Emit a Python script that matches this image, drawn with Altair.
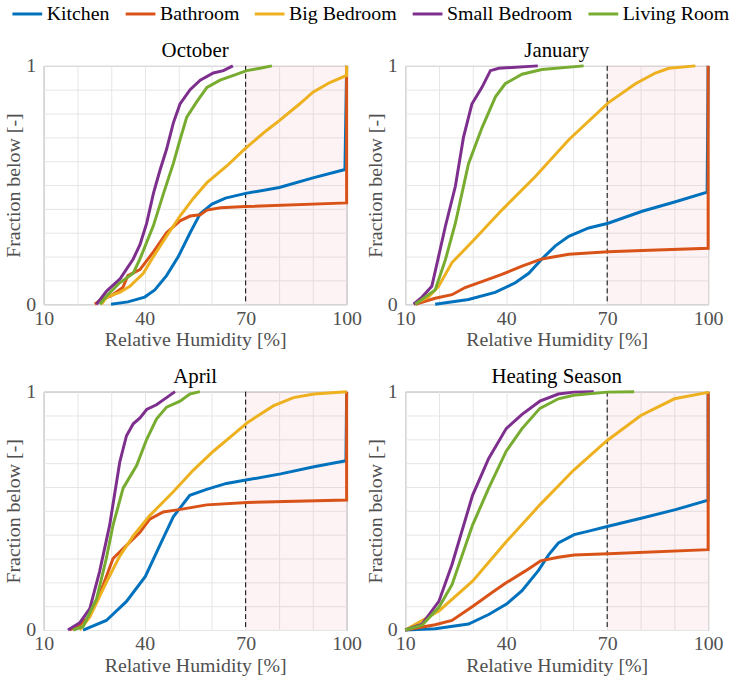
import altair as alt
import pandas as pd

ROOMS = ["Kitchen", "Bathroom", "Big Bedroom", "Small Bedroom", "Living Room"]
COLORS = ["#0072BD", "#D95319", "#EDB120", "#7E2F8E", "#77AC30"]
PANELS = ["October", "January", "April", "Heating Season"]
THRESHOLD = 70
X_TICKS = [10, 20, 30, 40, 50, 60, 70, 80, 90, 100]
Y_TICKS = [0, 0.1, 0.2, 0.3, 0.4, 0.5, 0.6, 0.7, 0.8, 0.9, 1]

# ---------------- October ----------------
oct_kitchen_rh = [30, 35, 40, 43, 46.5, 50, 53.5, 56.5, 60, 64, 70, 80, 90, 99.5, 100]
oct_kitchen_f = [0, 0.01, 0.03, 0.06, 0.12, 0.2, 0.3, 0.38, 0.42, 0.445, 0.465, 0.49, 0.53, 0.565, 1.0]
oct_bath_rh = [25.2, 27, 30, 33.5, 35, 38.6, 42.6, 46.5, 50.5, 53.5, 56.5, 58.5, 62.5, 70, 100, 100]
oct_bath_f = [0, 0.02, 0.035, 0.07, 0.12, 0.145, 0.22, 0.3, 0.35, 0.37, 0.375, 0.395, 0.405, 0.41, 0.425, 1.0]
oct_big_rh = [27.2, 28.7, 32.6, 35.6, 39.6, 42.6, 46.5, 50.5, 54.5, 58.5, 64.4, 70, 76.3, 80, 86, 90, 95, 100, 100]
oct_big_f = [0, 0.03, 0.05, 0.075, 0.13, 0.2, 0.285, 0.37, 0.445, 0.51, 0.58, 0.655, 0.73, 0.77, 0.84, 0.89, 0.93, 0.96, 1.0]
oct_small_rh = [25.7, 28.7, 32.6, 36.6, 38.6, 40.6, 42.6, 44.5, 46.5, 48.5, 50.5, 53.5, 56.5, 60.4, 63.4, 66.2]
oct_small_f = [0, 0.055, 0.105, 0.19, 0.25, 0.34, 0.465, 0.56, 0.65, 0.76, 0.84, 0.9, 0.94, 0.97, 0.98, 1.0]
oct_living_rh = [26.7, 28.7, 32.6, 36.6, 38.6, 42.6, 45.6, 48.5, 50.5, 52.5, 55.5, 58.5, 62.4, 66.4, 70.3, 74.3, 77.8]
oct_living_f = [0, 0.035, 0.09, 0.13, 0.19, 0.33, 0.465, 0.59, 0.69, 0.785, 0.85, 0.91, 0.94, 0.96, 0.98, 0.99, 1.0]

# ---------------- January ----------------
jan_kitchen_rh = [18.9, 28.8, 36.7, 42.7, 46.7, 50.6, 54.6, 58.6, 64.5, 70.3, 80.4, 90.3, 99.7, 100]
jan_kitchen_f = [0, 0.02, 0.05, 0.09, 0.13, 0.19, 0.245, 0.285, 0.32, 0.34, 0.39, 0.43, 0.47, 1.0]
jan_bath_rh = [13, 18.9, 23.9, 27.8, 33.8, 38.7, 44.7, 50.6, 58.6, 70.3, 80.4, 100, 100]
jan_bath_f = [0, 0.025, 0.04, 0.07, 0.1, 0.125, 0.16, 0.19, 0.21, 0.22, 0.225, 0.235, 1.0]
jan_big_rh = [12.5, 16.9, 19.9, 23.9, 30.1, 38.7, 48.6, 58.6, 70.3, 78.4, 84.3, 88.3, 96.2]
jan_big_f = [0, 0.03, 0.075, 0.175, 0.265, 0.395, 0.535, 0.69, 0.845, 0.925, 0.97, 0.99, 1.0]
jan_small_rh = [12.5, 15, 17.9, 19.9, 21.9, 24.9, 27.3, 29.8, 32.8, 35.3, 37.8, 49.4]
jan_small_f = [0, 0.03, 0.075, 0.2, 0.325, 0.495, 0.7, 0.84, 0.91, 0.98, 0.99, 1.0]
jan_living_rh = [13, 18.9, 21.9, 24.9, 28.8, 32.8, 36.8, 39.7, 44.7, 50.6, 63]
jan_living_f = [0, 0.06, 0.185, 0.34, 0.59, 0.74, 0.87, 0.925, 0.965, 0.985, 1.0]

# ---------------- April ----------------
apr_kitchen_rh = [21.7, 28.6, 34.6, 40.2, 44.5, 48.5, 53.4, 58.4, 64.3, 70.5, 80.4, 90.3, 99.8, 100]
apr_kitchen_f = [0, 0.04, 0.12, 0.225, 0.355, 0.475, 0.565, 0.59, 0.615, 0.63, 0.655, 0.685, 0.71, 1.0]
apr_bath_rh = [17.7, 20.7, 23.7, 27.7, 30.6, 34.6, 38.6, 41.5, 45.5, 50.2, 58.4, 70.5, 100, 100]
apr_bath_f = [0, 0.02, 0.06, 0.19, 0.3, 0.355, 0.41, 0.465, 0.495, 0.505, 0.525, 0.535, 0.545, 1.0]
apr_big_rh = [20.7, 23.7, 28.6, 32.6, 36.6, 41.5, 48.5, 54.4, 60.4, 66.3, 70.5, 78.2, 84.2, 90.3, 100]
apr_big_f = [0, 0.055, 0.2, 0.31, 0.395, 0.48, 0.58, 0.67, 0.75, 0.82, 0.87, 0.94, 0.975, 0.99, 1.0]
apr_small_rh = [17.2, 20.7, 23.7, 26.6, 29.6, 32.6, 34.6, 36.6, 38.6, 40.6, 43.5, 46.5, 49]
apr_small_f = [0, 0.03, 0.09, 0.245, 0.44, 0.705, 0.815, 0.865, 0.89, 0.925, 0.945, 0.975, 1.0]
apr_living_rh = [18.7, 21.7, 25.7, 28.6, 30.6, 33.6, 37.6, 40.6, 43.5, 46.5, 50.5, 53.4, 56.4]
apr_living_f = [0, 0.015, 0.13, 0.3, 0.44, 0.595, 0.69, 0.8, 0.885, 0.935, 0.96, 0.99, 1.0]

# ---------------- Heating Season ----------------
heat_kitchen_rh = [10, 18.9, 28.8, 34.8, 40.2, 44.7, 49.6, 52.6, 55.5, 60.2, 64.5, 70.3, 80.4, 90.3, 100, 100]
heat_kitchen_f = [0, 0.005, 0.025, 0.065, 0.11, 0.165, 0.25, 0.315, 0.365, 0.4, 0.415, 0.435, 0.47, 0.505, 0.545, 1.0]
heat_bath_rh = [10, 18.9, 23.9, 30.1, 35.8, 40.2, 45.6, 50.2, 55.5, 60.2, 70.3, 100, 100]
heat_bath_f = [0, 0.022, 0.04, 0.1, 0.157, 0.2, 0.247, 0.29, 0.305, 0.315, 0.32, 0.337, 1.0]
heat_big_rh = [10, 15, 20, 30, 40, 50, 60, 70, 80, 90, 100, 100]
heat_big_f = [0, 0.04, 0.08, 0.205, 0.37, 0.525, 0.67, 0.795, 0.9, 0.97, 0.997, 1.0]
heat_small_rh = [10, 15, 20, 23.9, 30, 34.8, 40, 44.7, 50, 55.5, 60, 66]
heat_small_f = [0, 0.025, 0.12, 0.275, 0.565, 0.72, 0.845, 0.905, 0.96, 0.99, 0.998, 1.0]
heat_living_rh = [10, 15, 20, 23.9, 30, 34.8, 40, 44.7, 50, 55.5, 60, 70, 78]
heat_living_f = [0, 0.02, 0.095, 0.19, 0.44, 0.595, 0.75, 0.845, 0.93, 0.97, 0.985, 0.998, 1.0]

SERIES = {
    "October": [(oct_kitchen_rh, oct_kitchen_f), (oct_bath_rh, oct_bath_f), (oct_big_rh, oct_big_f),
                (oct_small_rh, oct_small_f), (oct_living_rh, oct_living_f)],
    "January": [(jan_kitchen_rh, jan_kitchen_f), (jan_bath_rh, jan_bath_f), (jan_big_rh, jan_big_f),
                (jan_small_rh, jan_small_f), (jan_living_rh, jan_living_f)],
    "April": [(apr_kitchen_rh, apr_kitchen_f), (apr_bath_rh, apr_bath_f), (apr_big_rh, apr_big_f),
              (apr_small_rh, apr_small_f), (apr_living_rh, apr_living_f)],
    "Heating Season": [(heat_kitchen_rh, heat_kitchen_f), (heat_bath_rh, heat_bath_f), (heat_big_rh, heat_big_f),
                       (heat_small_rh, heat_small_f), (heat_living_rh, heat_living_f)],
}

rows = []
for panel in PANELS:
    for room, (rh, fr) in zip(ROOMS, SERIES[panel]):
        for i, (x, y) in enumerate(zip(rh, fr)):
            rows.append({"panel": panel, "room": room, "rh": x, "frac": y, "idx": i})
df = pd.DataFrame(rows)

shade_df = pd.DataFrame({"x0": [THRESHOLD], "x1": [max(X_TICKS)], "y0": [min(Y_TICKS)], "y1": [max(Y_TICKS)]})
rule_df = pd.DataFrame({"x": [THRESHOLD]})

FONT = "Liberation Serif"
GREY = "#505050"

x_scale = alt.Scale(domain=[10, 100], nice=False, zero=False)
y_scale = alt.Scale(domain=[0, 1], nice=False, zero=False)


def x_axis():
    return alt.Axis(values=X_TICKS, title="Relative Humidity [%]",
                    labelExpr="(datum.value == 10 || datum.value == 40 || datum.value == 70 || datum.value == 100) ? datum.label : ''",
                    labelFlush=False, labelOverlap=False, ticks=False, domain=False,
                    labelPadding=4, titlePadding=2,
                    labelFont=FONT, titleFont=FONT, labelFontSize=20, titleFontSize=20,
                    labelColor=GREY, titleColor=GREY, titleFontWeight="normal",
                    gridColor="#e6e6e6", gridWidth=1)


def y_axis():
    return alt.Axis(values=Y_TICKS, title="Fraction below [-]",
                    labelExpr="datum.value == 0 ? '0' : (datum.value == 1 ? '1' : '')",
                    labelFlush=False, labelOverlap=False, ticks=False, domain=False,
                    labelPadding=8, titlePadding=2,
                    labelFont=FONT, titleFont=FONT, labelFontSize=20, titleFontSize=20,
                    labelColor=GREY, titleColor=GREY, titleFontWeight="normal",
                    gridColor="#e6e6e6", gridWidth=1)


legend = alt.Legend(orient="none", direction="horizontal", title=None, padding=0,
                    symbolType="stroke", symbolStrokeWidth=3, symbolSize=900,
                    labelFontSize=20, labelFont=FONT, labelColor="black",
                    labelOffset=3, columnPadding=9, legendX=-33, legendY=-69)


def panel_chart(name):
    d = df[df["panel"] == name]
    shade = alt.Chart(shade_df).mark_rect(color="#eb8791", opacity=0.1).encode(
        x=alt.X("x0:Q", scale=x_scale, axis=x_axis()), x2="x1:Q",
        y=alt.Y("y0:Q", scale=y_scale, axis=y_axis()), y2="y1:Q")
    rule = alt.Chart(rule_df).mark_rule(color="black", strokeDash=[5, 3], strokeWidth=1).encode(
        x=alt.X("x:Q", scale=x_scale, axis=x_axis()))
    lines = alt.Chart(d).mark_line(strokeWidth=3).encode(
        x=alt.X("rh:Q", scale=x_scale, axis=x_axis()),
        y=alt.Y("frac:Q", scale=y_scale, axis=y_axis()),
        color=alt.Color("room:N", scale=alt.Scale(domain=ROOMS, range=COLORS), legend=legend),
        order="idx:Q")
    return alt.layer(shade, rule, lines).properties(
        width=305, height=240,
        title=alt.TitleParams(name, font=FONT, fontSize=21, color="black", fontWeight="normal",
                              offset=-5, frame="group"))


row1 = alt.hconcat(panel_chart("October"), panel_chart("January"), spacing=2)
row2 = alt.hconcat(panel_chart("April"), panel_chart("Heating Season"), spacing=2)
chart = alt.vconcat(row1, row2, spacing=14).properties(
    padding={"left": 3, "top": -5, "right": 0, "bottom": 0},
    background="white"
).configure_view(stroke="#8c8c8c", strokeWidth=1)

chart.save("out.html", embed_options={"renderer": "svg", "actions": False})
